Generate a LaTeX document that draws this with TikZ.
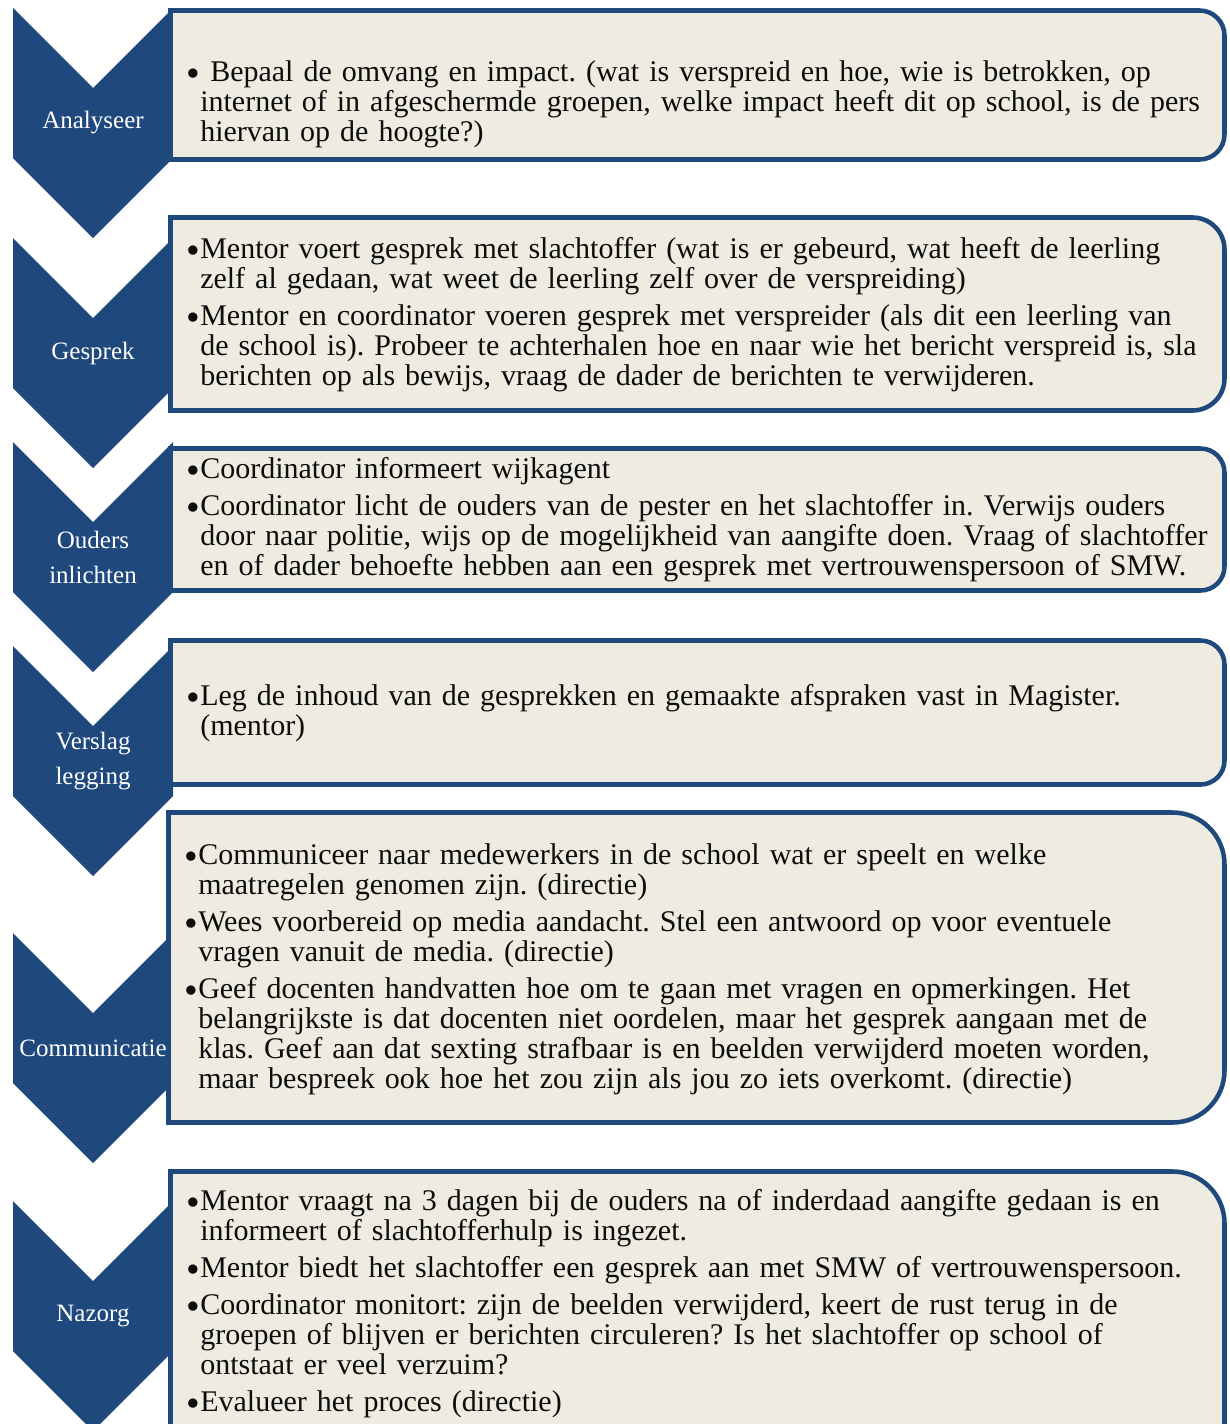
\documentclass[tikz,border=0pt]{standalone}
\usepackage{fontspec}
\setmainfont{Liberation Serif}
\usepackage{graphicx}
\usepackage{tikz}
\definecolor{navy}{RGB}{31,73,125}
\definecolor{paper}{RGB}{238,236,225}
\newcommand{\bul}{\leavevmode\llap{\raisebox{-0.19em}{\scalebox{1.3}{•}}}}
\frenchspacing

\begin{document}
\begin{tikzpicture}[x=0.75pt,y=0.75pt,yscale=-1,xscale=1,
  chev/.style={fill=navy,draw=none},
  panel/.style={draw=navy,fill=paper,line width=3.4pt},
  lbl/.style={text=white,align=center,inner sep=0pt,font=\fontsize{18.75pt}{26.25pt}\selectfont},
  txt/.style={anchor=base west,inner sep=0pt,text width=800pt,align=left,text=black!95,font=\fontsize{22.5pt}{22.5pt}\selectfont}]
\clip (0,0) rectangle (1230,1424);
\fill [white] (0,0) rectangle (1230,1424);
% chevrons
\draw [chev] (13,8) -- (93,88) -- (173,8) -- (173,158) -- (93,238) -- (13,158) -- cycle ;
\draw [chev] (13,238) -- (93,318) -- (173,238) -- (173,388) -- (93,468) -- (13,388) -- cycle ;
\draw [chev] (13,442) -- (93,522) -- (173,442) -- (173,592) -- (93,672) -- (13,592) -- cycle ;
\draw [chev] (13,646) -- (93,726) -- (173,646) -- (173,796) -- (93,876) -- (13,796) -- cycle ;
\draw [chev] (13,933) -- (93,1013) -- (173,933) -- (173,1083) -- (93,1163) -- (13,1083) -- cycle ;
\draw [chev] (13,1201) -- (93,1281) -- (173,1201) -- (173,1351) -- (93,1431) -- (13,1351) -- cycle ;
% panels
\draw [panel] (170.5,10.5) -- (1199.5,10.5) .. controls (1213.3,10.5) and (1224.5,21.7) .. (1224.5,35.5) -- (1224.5,134.5) .. controls (1224.5,148.3) and (1213.3,159.5) .. (1199.5,159.5) -- (170.5,159.5) -- cycle ;
\draw [panel] (170.5,217.5) -- (1192.5,217.5) .. controls (1210.2,217.5) and (1224.5,231.8) .. (1224.5,249.5) -- (1224.5,378.5) .. controls (1224.5,396.2) and (1210.2,410.5) .. (1192.5,410.5) -- (170.5,410.5) -- cycle ;
\draw [panel] (170.5,448.5) -- (1200.5,448.5) .. controls (1213.7,448.5) and (1224.5,459.3) .. (1224.5,472.5) -- (1224.5,566.5) .. controls (1224.5,579.7) and (1213.7,590.5) .. (1200.5,590.5) -- (170.5,590.5) -- cycle ;
\draw [panel] (170.5,640.5) -- (1200.5,640.5) .. controls (1213.7,640.5) and (1224.5,651.3) .. (1224.5,664.5) -- (1224.5,760.5) .. controls (1224.5,773.7) and (1213.7,784.5) .. (1200.5,784.5) -- (170.5,784.5) -- cycle ;
\draw [panel] (168.5,812.5) -- (1172.5,812.5) .. controls (1201.2,812.5) and (1224.5,835.8) .. (1224.5,864.5) -- (1224.5,1070.5) .. controls (1224.5,1099.2) and (1201.2,1122.5) .. (1172.5,1122.5) -- (168.5,1122.5) -- cycle ;
\draw [panel] (170.5,1171.5) -- (1172.5,1171.5) .. controls (1201.2,1171.5) and (1224.5,1194.8) .. (1224.5,1223.5) -- (1224.5,1432) .. controls (1224.5,1460.7) and (1201.2,1484) .. (1172.5,1484) -- (170.5,1484) -- cycle ;
% step labels
\draw (93,123) node [lbl] (analyseer) {Analyseer};
\draw (93,353) node [lbl] (gesprek) {Gesprek};
\draw (93,557) node [lbl] (ouders) {Ouders\\inlichten};
\draw (93,761) node [lbl] (verslag) {Verslag\\legging};
\draw (93,1048) node [lbl] (communicatie) {Communicatie};
\draw (93,1316) node [lbl] (nazorg) {Nazorg};
% panel texts
\draw (200,81) node [txt] (t1) {\bul\ Bepaal de omvang en impact. (wat is verspreid en hoe, wie is betrokken, op\\
internet of in afgeschermde groepen, welke impact heeft dit op school, is de pers\\
hiervan op de hoogte?)};
\draw (200,258) node [txt] (t2) {\bul Mentor voert gesprek met slachtoffer (wat is er gebeurd, wat heeft de leerling\\
zelf al gedaan, wat weet de leerling zelf over de verspreiding)\\[5.25pt]
\bul Mentor en coordinator voeren gesprek met verspreider (als dit een leerling van\\
de school is). Probeer te achterhalen hoe en naar wie het bericht verspreid is, sla\\
berichten op als bewijs, vraag de dader de berichten te verwijderen.};
\draw (200,478) node [txt] (t3) {\bul Coordinator informeert wijkagent\\[5.25pt]
\bul Coordinator licht de ouders van de pester en het slachtoffer in. Verwijs ouders\\
door naar politie, wijs op de mogelijkheid van aangifte doen. Vraag of slachtoffer\\
en of dader behoefte hebben aan een gesprek met vertrouwenspersoon of SMW.};
\draw (200,705) node [txt] (t4) {\bul Leg de inhoud van de gesprekken en gemaakte afspraken vast in Magister.\\
(mentor)};
\draw (198,864) node [txt] (t5) {\bul Communiceer naar medewerkers in de school wat er speelt en welke\\
maatregelen genomen zijn. (directie)\\[5.25pt]
\bul Wees voorbereid op media aandacht. Stel een antwoord op voor eventuele\\
vragen vanuit de media. (directie)\\[5.25pt]
\bul Geef docenten handvatten hoe om te gaan met vragen en opmerkingen. Het\\
belangrijkste is dat docenten niet oordelen, maar het gesprek aangaan met de\\
klas. Geef aan dat sexting strafbaar is en beelden verwijderd moeten worden,\\
maar bespreek ook hoe het zou zijn als jou zo iets overkomt. (directie)};
\draw (200,1210) node [txt] (t6) {\bul Mentor vraagt na 3 dagen bij de ouders na of inderdaad aangifte gedaan is en\\
informeert of slachtofferhulp is ingezet.\\[5.25pt]
\bul Mentor biedt het slachtoffer een gesprek aan met SMW of vertrouwenspersoon.\\[5.25pt]
\bul Coordinator monitort: zijn de beelden verwijderd, keert de rust terug in de\\
groepen of blijven er berichten circuleren? Is het slachtoffer op school of\\
ontstaat er veel verzuim?\\[5.25pt]
\bul Evalueer het proces (directie)};
\end{tikzpicture}
\end{document}
